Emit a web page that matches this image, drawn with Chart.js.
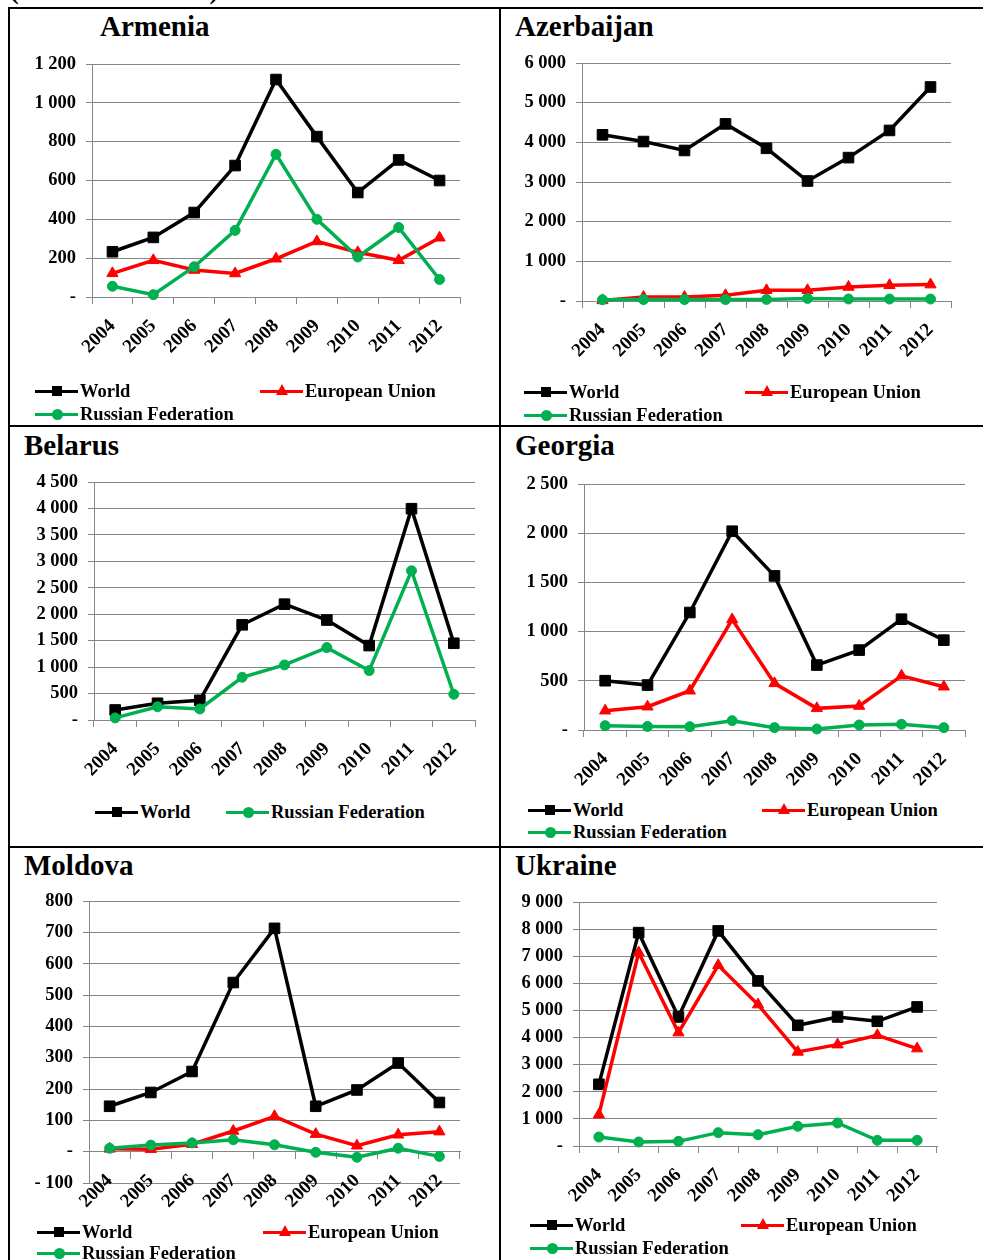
<!DOCTYPE html>
<html>
<head>
<meta charset="utf-8">
<script src="https://cdn.jsdelivr.net/npm/chart.js@4.4.1/dist/chart.umd.min.js"></script>
<style>
  html, body { margin:0; padding:0; background:#fff; }
  body { width:983px; height:1260px; overflow:hidden; position:relative;
         font-family:'Liberation Serif','Times New Roman',serif; font-weight:bold; color:#000; }
  .bar { position:absolute; background:#000; }
  .title { position:absolute; font-size:29px; line-height:1; font-weight:bold; white-space:nowrap; }
  .cap { position:absolute; font-size:26px; line-height:1; letter-spacing:1px; white-space:nowrap; }
  canvas { position:absolute; }
  .lg { position:absolute; font-size:18.5px; line-height:20px; white-space:nowrap; z-index:3; }
  .sym { position:absolute; height:3px; width:43px; }
  .mk { position:absolute; }
</style>
</head>
<body>
<div class="cap" style="left:10px;top:-22px;">(millions of USD)</div>

<div class="bar" style="left:8px;top:7px;width:975px;height:2px;"></div>
<div class="bar" style="left:8px;top:7px;width:2px;height:1253px;"></div>
<div class="bar" style="left:499px;top:7px;width:2px;height:1253px;"></div>
<div class="bar" style="left:8px;top:425px;width:975px;height:2px;"></div>
<div class="bar" style="left:8px;top:846px;width:975px;height:2px;"></div>

<script>
// ---------- DATA ----------
const years = ['2004','2005','2006','2007','2008','2009','2010','2011','2012'];

const armeniaWorld  = [233, 307, 435, 677, 1120, 826, 538, 706, 600];
const armeniaEU     = [122, 189, 139, 121, 197, 286, 230, 189, 305];
const armeniaRussia = [55, 12, 156, 343, 735, 400, 206, 358, 90];

const azerbaijanWorld  = [4190, 4020, 3795, 4465, 3850, 3025, 3615, 4300, 5395];
const azerbaijanEU     = [15, 100, 100, 143, 270, 270, 354, 396, 413];
const azerbaijanRussia = [30, 35, 35, 35, 40, 65, 50, 50, 50];

const belarusWorld  = [189, 316, 372, 1800, 2190, 1890, 1407, 3995, 1451];
const belarusRussia = [40, 250, 208, 808, 1041, 1369, 934, 2821, 486];

const georgiaWorld  = [501, 457, 1194, 2020, 1566, 660, 812, 1126, 913];
const georgiaEU     = [196, 237, 399, 1123, 474, 220, 244, 551, 440];
const georgiaRussia = [44, 36, 34, 95, 24, 10, 51, 58, 24];

const moldovaWorld  = [145, 189, 256, 540, 713, 145, 197, 283, 157];
const moldovaEU     = [9, 8, 24, 66, 113, 56, 19, 54, 64];
const moldovaRussia = [11, 21, 28, 38, 22, -2, -18, 11, -15];

const ukraineWorld  = [2275, 7870, 4760, 7933, 6088, 4452, 4760, 4600, 5129];
const ukraineEU     = [1156, 7134, 4182, 6666, 5215, 3469, 3739, 4084, 3592];
const ukraineRussia = [332, 148, 172, 492, 418, 726, 849, 209, 209];

// y-axis tick ranges: [min, max, step]
const armeniaTicks    = [0, 1200, 200];
const azerbaijanTicks = [0, 6000, 1000];
const belarusTicks    = [0, 4500, 500];
const georgiaTicks    = [0, 2500, 500];
const moldovaTicks    = [-100, 800, 100];
const ukraineTicks    = [0, 9000, 1000];

const seriesNames = ['World', 'European Union', 'Russian Federation'];

// ---------- STYLE ----------
const FONT = "'Liberation Serif','Times New Roman',serif";
const GRID = '#868686';
const STYLE = {
  'World':              { color:'#000000', point:'rect',     r:7.5, order:3, mk:'sq' },
  'European Union':     { color:'#FF0000', point:'triangle', r:6.5, order:2, mk:'tri' },
  'Russian Federation': { color:'#00B050', point:'circle',   r:5,   order:1, mk:'ci' }
};

const panels = [
  { id:'armenia', title:'Armenia', tx:100, ty:11.7, ticks:armeniaTicks,
    series:[[seriesNames[0], armeniaWorld],[seriesNames[1], armeniaEU],[seriesNames[2], armeniaRussia]],
    c:{x:10,y:40,w:488,h:345}, L:92, T:64, R:460, B:297,
    legend:[[35,391],[260,391],[35,414]] },
  { id:'azerbaijan', title:'Azerbaijan', tx:515, ty:11.7, ticks:azerbaijanTicks,
    series:[[seriesNames[0], azerbaijanWorld],[seriesNames[1], azerbaijanEU],[seriesNames[2], azerbaijanRussia]],
    c:{x:502,y:40,w:480,h:345}, L:582, T:63, R:951, B:301,
    legend:[[524,392],[745,392],[524,415]] },
  { id:'belarus', title:'Belarus', tx:24, ty:430.7, ticks:belarusTicks,
    series:[[seriesNames[0], belarusWorld],[seriesNames[2], belarusRussia]],
    c:{x:10,y:460,w:488,h:340}, L:94, T:482, R:475, B:720,
    legend:[[95,812],[226,812]] },
  { id:'georgia', title:'Georgia', tx:515, ty:430.7, ticks:georgiaTicks,
    series:[[seriesNames[0], georgiaWorld],[seriesNames[1], georgiaEU],[seriesNames[2], georgiaRussia]],
    c:{x:502,y:460,w:480,h:340}, L:584, T:484, R:965, B:730,
    legend:[[528,810],[762,810],[528,832]] },
  { id:'moldova', title:'Moldova', tx:24, ty:850.7, ticks:moldovaTicks, zeroAxis:true,
    series:[[seriesNames[0], moldovaWorld],[seriesNames[1], moldovaEU],[seriesNames[2], moldovaRussia]],
    c:{x:10,y:880,w:488,h:340}, L:89, T:901, R:460, B:1183,
    legend:[[37,1232],[263,1232],[37,1253]] },
  { id:'ukraine', title:'Ukraine', tx:515, ty:850.7, ticks:ukraineTicks,
    series:[[seriesNames[0], ukraineWorld],[seriesNames[1], ukraineEU],[seriesNames[2], ukraineRussia]],
    c:{x:502,y:880,w:480,h:340}, L:579, T:902, R:937, B:1146,
    legend:[[530,1225],[741,1225],[530,1248]] }
];

function fmt(v) {
  if (v === 0) return '-';
  const s = Math.abs(v).toString().replace(/\B(?=(\d{3})+(?!\d))/g, ' ');
  return v < 0 ? '- ' + s : s;
}

function addLegendItem(name, x, y) {
  const st = STYLE[name];
  const line = document.createElement('div');
  line.className = 'sym';
  line.style.cssText = `left:${x}px;top:${y-1.5}px;background:${st.color};z-index:3;`;
  document.body.appendChild(line);
  const m = document.createElement('div');
  m.className = 'mk';
  if (st.mk === 'sq') {
    m.style.cssText = `left:${x+17}px;top:${y-5}px;width:10px;height:10px;background:${st.color};z-index:4;`;
  } else if (st.mk === 'ci') {
    m.style.cssText = `left:${x+16.5}px;top:${y-5.5}px;width:11px;height:11px;border-radius:50%;background:${st.color};z-index:4;`;
  } else {
    m.style.cssText = `left:${x+16}px;top:${y-7}px;width:0;height:0;border-left:6px solid transparent;border-right:6px solid transparent;border-bottom:11px solid ${st.color};z-index:4;`;
  }
  document.body.appendChild(m);
  const t = document.createElement('div');
  t.className = 'lg';
  t.style.left = (x + 45) + 'px';
  t.style.top = (y - 10.5) + 'px';
  t.textContent = name;
  document.body.appendChild(t);
}

panels.forEach(p => {
  const title = document.createElement('div');
  title.className = 'title';
  title.style.left = p.tx + 'px';
  title.style.top = p.ty + 'px';
  title.textContent = p.title;
  document.body.appendChild(title);

  const cv = document.createElement('canvas');
  cv.id = p.id;
  cv.width = p.c.w; cv.height = p.c.h;
  cv.style.left = p.c.x + 'px'; cv.style.top = p.c.y + 'px';
  cv.style.width = p.c.w + 'px'; cv.style.height = p.c.h + 'px';
  document.body.appendChild(cv);

  p.series.forEach((s, i) => addLegendItem(s[0], p.legend[i][0], p.legend[i][1]));

  const yW = p.L - p.c.x;
  const xH = p.c.y + p.c.h - p.B;
  const padTop = p.T - p.c.y;
  const padRight = p.c.x + p.c.w - p.R;
  const padBottom = p.zeroAxis ? (p.c.y + p.c.h - p.B) : 0;

  new Chart(cv, {
    type: 'line',
    data: {
      labels: years,
      datasets: p.series.map(s => {
        const st = STYLE[s[0]];
        return {
          label: s[0], data: s[1],
          borderColor: st.color, backgroundColor: st.color,
          borderWidth: 3.5, tension: 0, fill: false,
          pointStyle: st.point, pointRadius: st.r,
          pointBackgroundColor: st.color, pointBorderColor: st.color, pointBorderWidth: 1,
          order: st.order, clip: false
        };
      })
    },
    options: {
      responsive: false, animation: false, devicePixelRatio: 1,
      layout: { padding: { left: 0, top: padTop, right: padRight, bottom: padBottom } },
      plugins: { legend: { display: false }, title: { display: false }, tooltip: { enabled: false } },
      scales: {
        x: {
          type: 'category', offset: true,
          position: p.zeroAxis ? { y: 0 } : 'bottom',
          grid: { drawOnChartArea: false, drawTicks: true, tickLength: 7, offset: true, color: GRID, lineWidth: 1 },
          border: { color: GRID, width: 1 },
          ticks: { autoSkip: false, minRotation: 45, maxRotation: 45, padding: 11, color: '#000',
                   font: { family: FONT, size: 19, weight: 'bold' } },
          afterFit: s => { if (!p.zeroAxis) s.height = xH; }
        },
        y: {
          min: p.ticks[0], max: p.ticks[1],
          grid: { color: GRID, lineWidth: 1, drawTicks: true, tickLength: 6 },
          border: { color: GRID, width: 1 },
          ticks: { stepSize: p.ticks[2], padding: 10, color: '#000', callback: v => fmt(v),
                   font: { family: FONT, size: 18.5, weight: 'bold' } },
          afterFit: s => { s.width = yW; }
        }
      }
    }
  });
});
</script>
</body>
</html>
